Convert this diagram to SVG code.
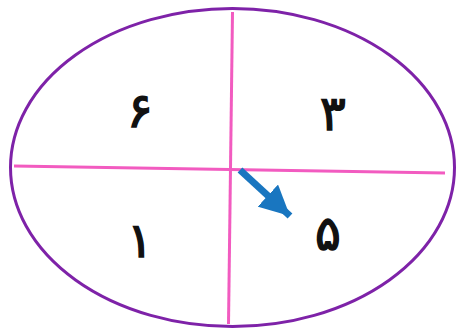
<svg xmlns="http://www.w3.org/2000/svg" width="457" height="330" viewBox="0 0 457 330">
<style>
.d{font-family:"DejaVu Sans",sans-serif;font-size:48px;font-weight:normal;fill:#111;stroke:#111;stroke-width:1.5;text-anchor:middle}
.l{stroke:#F25BC0;stroke-width:3;fill:none}
</style>
<defs>
<marker id="ah" viewBox="0 0 10 10" refX="10" refY="5" markerWidth="4.3" markerHeight="4.3" orient="auto" markerUnits="strokeWidth">
<path d="M0,0 L10,5 L0,10 z" fill="#1976C0"/>
</marker>
</defs>
<rect width="457" height="330" fill="#fff"/>
<g id="wheel">
<ellipse cx="232.5" cy="167.5" rx="222" ry="159" fill="none" stroke="#7E22A8" stroke-width="3"/>
</g>
<g id="dividers">
<line class="l" x1="232.5" y1="12" x2="228.5" y2="324"/>
<line class="l" x1="14" y1="166" x2="445" y2="173"/>
</g>
<g id="labels">
<text class="d" x="140" y="127">۶</text>
<text class="d" x="333" y="130">۳</text>
<text class="d" x="140" y="257">۱</text>
<text class="d" x="328" y="250">۵</text>
</g>
<g id="connectors">
<line x1="240" y1="170" x2="290" y2="216" stroke="#1976C0" stroke-width="7" marker-end="url(#ah)"/>
</g>
</svg>
